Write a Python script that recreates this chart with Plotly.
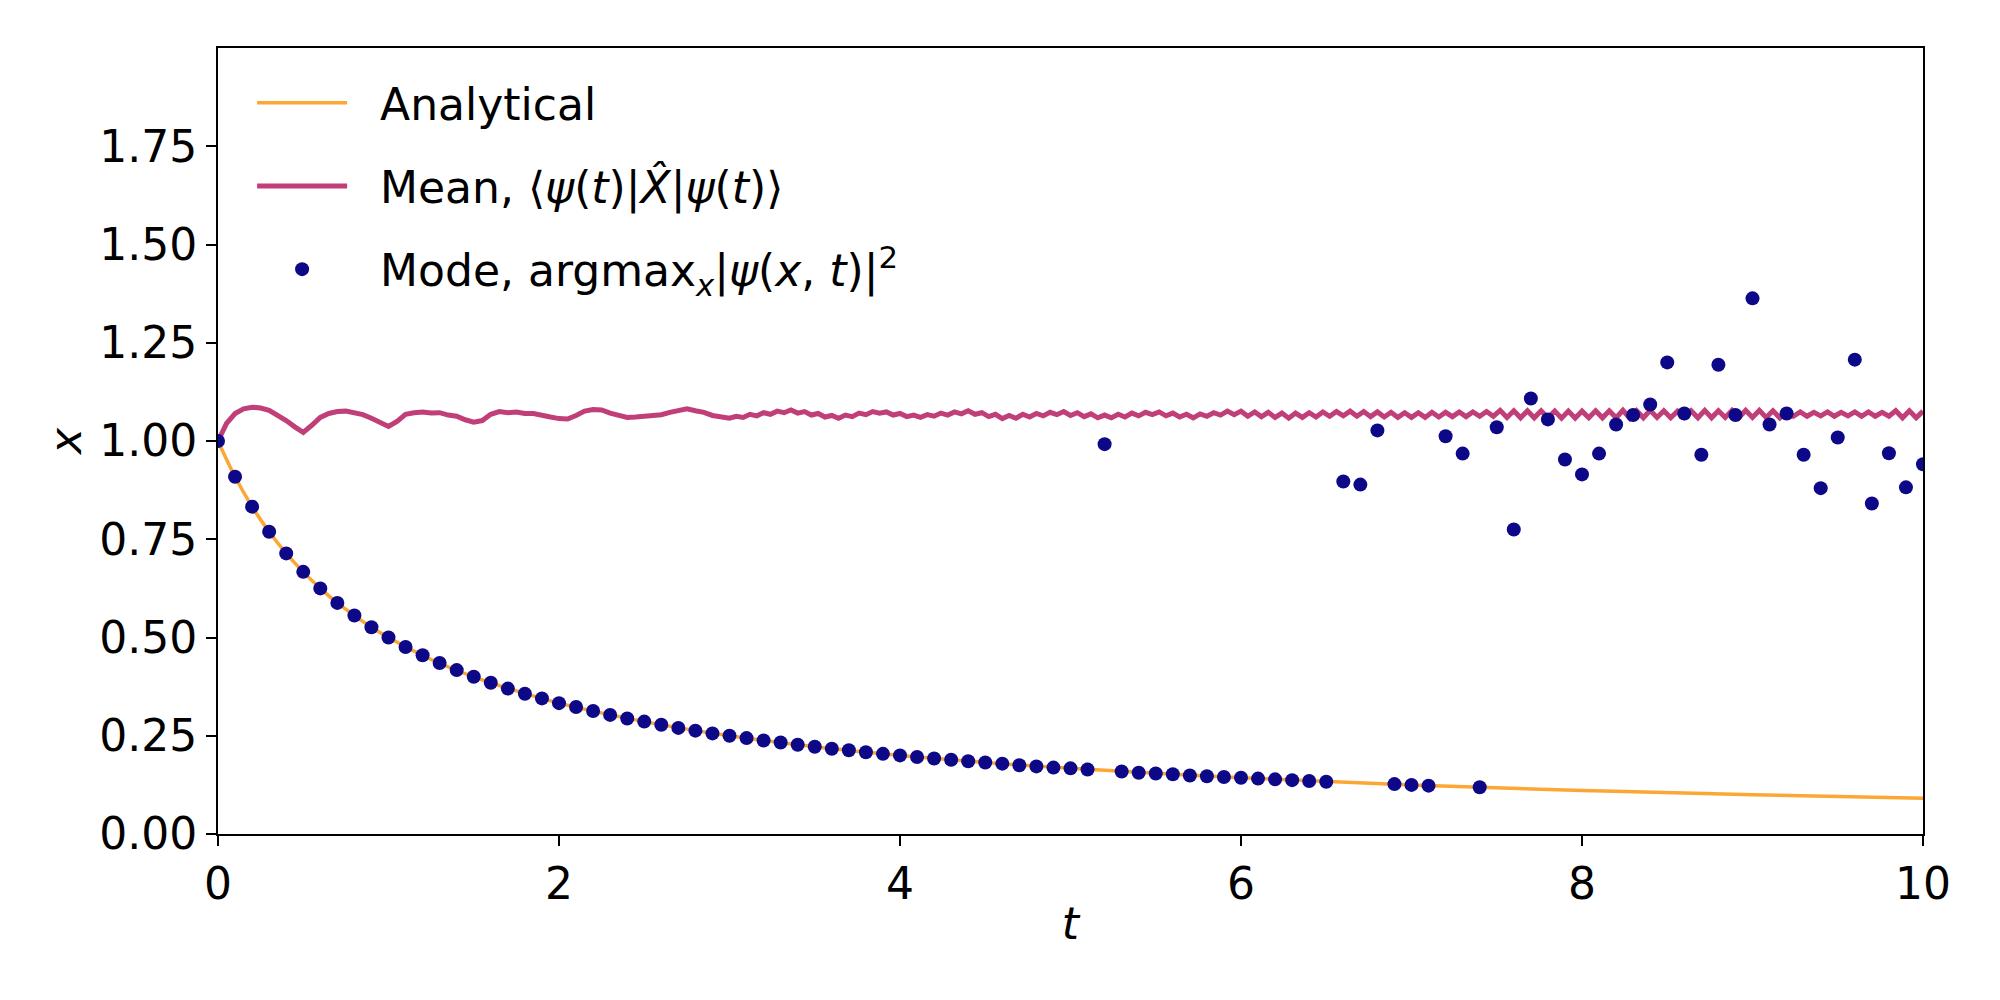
import plotly.graph_objects as go

# analytical curve
t_analytical = [0.0, 0.1, 0.2, 0.3, 0.4, 0.5, 0.6, 0.7, 0.8, 0.9, 1.0, 1.25, 1.5, 1.75, 2.0, 2.5,
                3.0, 3.5, 4.0, 4.5, 5.0, 6.0, 7.0, 8.0, 9.0, 10.0]
x_analytical = [1.000, 0.909, 0.833, 0.769, 0.714, 0.667, 0.625, 0.588, 0.556, 0.526, 0.500, 0.444,
                0.400, 0.364, 0.333, 0.286, 0.250, 0.222, 0.200, 0.182, 0.167, 0.143, 0.125, 0.111,
                0.100, 0.091]

# mean <psi|X|psi>
t_mean = [0.00, 0.05, 0.10, 0.15, 0.20, 0.25, 0.30, 0.35, 0.40, 0.45,
          0.50, 0.55, 0.60, 0.65, 0.70, 0.75, 0.80, 0.85, 0.90, 0.95,
          1.00, 1.05, 1.10, 1.15, 1.20, 1.25, 1.30, 1.35, 1.40, 1.45,
          1.50, 1.55, 1.60, 1.65, 1.70, 1.75, 1.80, 1.85, 1.90, 1.95,
          2.00, 2.05, 2.10, 2.15, 2.20, 2.25, 2.30, 2.35, 2.40, 2.45,
          2.50, 2.55, 2.60, 2.65, 2.70, 2.75, 2.80, 2.85, 2.90, 2.95, 3.00,
          3.04, 3.08, 3.12, 3.16, 3.20, 3.24, 3.28, 3.32, 3.36, 3.40,
          3.44, 3.48, 3.52, 3.56, 3.60, 3.64, 3.68, 3.72, 3.76, 3.80,
          3.84, 3.88, 3.92, 3.96, 4.00, 4.04, 4.08, 4.12, 4.16, 4.20,
          4.24, 4.28, 4.32, 4.36, 4.40, 4.44, 4.48, 4.52, 4.56, 4.60,
          4.64, 4.68, 4.72, 4.76, 4.80, 4.84, 4.88, 4.92, 4.96, 5.00,
          5.04, 5.08, 5.12, 5.16, 5.20, 5.24, 5.28, 5.32, 5.36, 5.40,
          5.44, 5.48, 5.52, 5.56, 5.60, 5.64, 5.68, 5.72, 5.76, 5.80,
          5.84, 5.88, 5.92, 5.96, 6.00, 6.04, 6.08, 6.12, 6.16, 6.20,
          6.24, 6.28, 6.32, 6.36, 6.40, 6.44, 6.48, 6.52, 6.56, 6.60,
          6.64, 6.68, 6.72, 6.76, 6.80, 6.84, 6.88, 6.92, 6.96, 7.00,
          7.04, 7.08, 7.12, 7.16, 7.20, 7.24, 7.28, 7.32, 7.36, 7.40,
          7.44, 7.48, 7.52, 7.56, 7.60, 7.64, 7.68, 7.72, 7.76, 7.80,
          7.84, 7.88, 7.92, 7.96, 8.00, 8.04, 8.08, 8.12, 8.16, 8.20,
          8.24, 8.28, 8.32, 8.36, 8.40, 8.44, 8.48, 8.52, 8.56, 8.60,
          8.64, 8.68, 8.72, 8.76, 8.80, 8.84, 8.88, 8.92, 8.96, 9.00,
          9.04, 9.08, 9.12, 9.16, 9.20, 9.24, 9.28, 9.32, 9.36, 9.40,
          9.44, 9.48, 9.52, 9.56, 9.60, 9.64, 9.68, 9.72, 9.76, 9.80,
          9.84, 9.88, 9.92, 9.96, 10.00]
x_mean = [1.000, 1.045, 1.070, 1.082, 1.086, 1.084, 1.078, 1.066, 1.052, 1.036,
          1.022, 1.040, 1.060, 1.070, 1.075, 1.076, 1.073, 1.067, 1.058, 1.046,
          1.037, 1.050, 1.068, 1.072, 1.074, 1.071, 1.072, 1.066, 1.063, 1.054,
          1.048, 1.052, 1.068, 1.075, 1.072, 1.074, 1.070, 1.070, 1.064, 1.061,
          1.057, 1.056, 1.065, 1.076, 1.080, 1.079, 1.071, 1.067, 1.060, 1.061,
          1.063, 1.067, 1.067, 1.073, 1.077, 1.082, 1.077, 1.073, 1.065, 1.062, 1.058,
          1.063, 1.060, 1.068, 1.064, 1.072, 1.068, 1.076, 1.072, 1.079, 1.071,
          1.075, 1.066, 1.070, 1.061, 1.065, 1.058, 1.066, 1.062, 1.071, 1.067,
          1.075, 1.071, 1.074, 1.066, 1.070, 1.062, 1.066, 1.060, 1.067, 1.063,
          1.071, 1.066, 1.074, 1.069, 1.077, 1.068, 1.072, 1.062, 1.068, 1.057,
          1.065, 1.058, 1.068, 1.061, 1.070, 1.064, 1.073, 1.067, 1.075, 1.065,
          1.072, 1.062, 1.069, 1.059, 1.066, 1.059, 1.068, 1.061, 1.071, 1.064,
          1.073, 1.067, 1.074, 1.064, 1.071, 1.061, 1.068, 1.059, 1.069, 1.063,
          1.072, 1.066, 1.076, 1.067, 1.076, 1.063, 1.074, 1.062, 1.073, 1.060,
          1.071, 1.058, 1.071, 1.060, 1.072, 1.061, 1.074, 1.063, 1.075, 1.064,
          1.076, 1.063, 1.075, 1.062, 1.074, 1.061, 1.073, 1.060, 1.072, 1.060,
          1.072, 1.060, 1.073, 1.061, 1.073, 1.062, 1.074, 1.062, 1.074, 1.063,
          1.075, 1.063, 1.078, 1.060, 1.077, 1.059, 1.077, 1.059, 1.077, 1.059,
          1.076, 1.058, 1.076, 1.058, 1.076, 1.059, 1.077, 1.059, 1.077, 1.059,
          1.078, 1.058, 1.077, 1.059, 1.078, 1.060, 1.077, 1.059, 1.076, 1.060,
          1.077, 1.059, 1.078, 1.059, 1.077, 1.060, 1.078, 1.059, 1.078, 1.060,
          1.078, 1.060, 1.077, 1.059, 1.077, 1.063, 1.074, 1.063, 1.073, 1.064,
          1.074, 1.063, 1.073, 1.064, 1.074, 1.063, 1.074, 1.063, 1.073, 1.063,
          1.077, 1.059, 1.077, 1.059, 1.076]

# mode argmax_x |psi(x,t)|^2
t_mode = [0.0, 0.1, 0.2, 0.3, 0.4, 0.5, 0.6, 0.7, 0.8, 0.9,
          1.0, 1.1, 1.2, 1.3, 1.4, 1.5, 1.6, 1.7, 1.8, 1.9,
          2.0, 2.1, 2.2, 2.3, 2.4, 2.5, 2.6, 2.7, 2.8, 2.9,
          3.0, 3.1, 3.2, 3.3, 3.4, 3.5, 3.6, 3.7, 3.8, 3.9,
          4.0, 4.1, 4.2, 4.3, 4.4, 4.5, 4.6, 4.7, 4.8, 4.9,
          5.0, 5.1, 5.2, 5.3, 5.4, 5.5, 5.6, 5.7, 5.8, 5.9,
          6.0, 6.1, 6.2, 6.3, 6.4, 6.5, 6.6, 6.7, 6.8, 6.9,
          7.0, 7.1, 7.2, 7.3, 7.4, 7.5, 7.6, 7.7, 7.8, 7.9,
          8.0, 8.1, 8.2, 8.3, 8.4, 8.5, 8.6, 8.7, 8.8, 8.9,
          9.0, 9.1, 9.2, 9.3, 9.4, 9.5, 9.6, 9.7, 9.8, 9.9, 10.0]
x_mode = [1.000, 0.909, 0.833, 0.769, 0.714, 0.667, 0.625, 0.588, 0.556, 0.526,
          0.500, 0.476, 0.455, 0.435, 0.417, 0.400, 0.385, 0.370, 0.357, 0.345,
          0.333, 0.323, 0.313, 0.303, 0.294, 0.286, 0.278, 0.270, 0.263, 0.256,
          0.250, 0.244, 0.238, 0.233, 0.227, 0.222, 0.217, 0.213, 0.208, 0.204,
          0.200, 0.196, 0.192, 0.189, 0.185, 0.182, 0.179, 0.175, 0.172, 0.169,
          0.167, 0.164, 0.992, 0.159, 0.156, 0.154, 0.152, 0.149, 0.147, 0.145,
          0.143, 0.141, 0.139, 0.137, 0.135, 0.133, 0.897, 0.889, 1.027, 0.127,
          0.125, 0.123, 1.012, 0.968, 0.119, 1.035, 0.775, 1.108, 1.055, 0.953,
          0.915, 0.968, 1.042, 1.066, 1.093, 1.200, 1.070, 0.965, 1.194, 1.066,
          1.363, 1.042, 1.070, 0.965, 0.880, 1.009, 1.207, 0.841, 0.969, 0.882, 0.941]

x_ticks = [0, 2, 4, 6, 8, 10]
y_ticks = [0.0, 0.25, 0.5, 0.75, 1.0, 1.25, 1.5, 1.75]

font_family = "DejaVu Sans"
pad = '\u00a0\u00a0'

fig = go.Figure()
fig.add_trace(go.Scatter(x=t_analytical, y=x_analytical, mode='lines', name=pad + 'Analytical',
                         legendgroup='a',
                         line=dict(color='#fca636', width=3.5, shape='spline')))
fig.add_trace(go.Scatter(x=t_mean, y=x_mean, mode='lines',
                         name=pad + 'Mean, \u27e8<i>\u03c8</i>(<i>t</i>)|<i>X\u0302</i>|<i>\u03c8</i>(<i>t</i>)\u27e9',
                         legendgroup='b',
                         line=dict(color='#c13f78', width=5)))
fig.add_trace(go.Scatter(x=t_mode, y=x_mode, mode='markers',
                         name=pad + 'Mode, argmax<sub><i>x</i></sub>|<i>\u03c8</i>(<i>x</i>, <i>t</i>)|<sup>2</sup>',
                         legendgroup='c',
                         marker=dict(color='#0d0887', size=14)))

axis_style = dict(showline=True, mirror=True, linecolor='black', linewidth=2,
                  ticks='outside', ticklen=10, tickwidth=2, tickcolor='black',
                  showgrid=False, zeroline=False, automargin=False,
                  tickfont=dict(family=font_family, size=44, color='black'))

fig.update_xaxes(range=[0, 10], tickvals=x_ticks,
                 title=dict(text='<i>t</i>', font=dict(family=font_family, size=44, color='black'),
                            standoff=0),
                 **axis_style)
fig.update_yaxes(range=[0, 2.0], tickvals=y_ticks, tickformat='.2f',
                 title=dict(text='<i>x</i>', font=dict(family=font_family, size=44, color='black'),
                            standoff=4),
                 **axis_style)

# page body adds an 8px offset, so the figure is 8px smaller on each side
fig.update_layout(
    width=1992, height=992,
    margin=dict(l=210, r=77, t=40, b=166),
    paper_bgcolor='white', plot_bgcolor='white',
    font=dict(family=font_family, size=44, color='black'),
    legend=dict(x=0.02, y=0.975, xanchor='left', yanchor='top',
                bgcolor='rgba(0,0,0,0)', itemwidth=90,
                traceorder='grouped', tracegroupgap=23,
                font=dict(family=font_family, size=44, color='black')),
    showlegend=True,
)

fig.write_html("out.html")
